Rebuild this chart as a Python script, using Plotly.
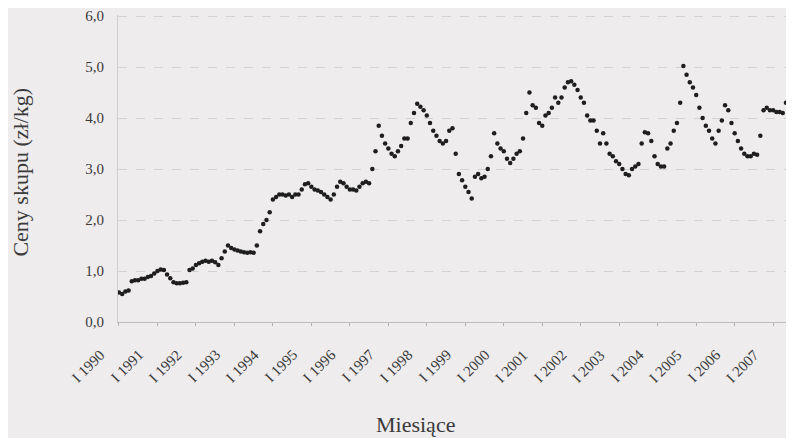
import plotly.graph_objects as go

# Monthly purchase prices, I 1990 .. VI 2007 (zł/kg)
prices_1990 = [0.58, 0.55, 0.60, 0.62, 0.80, 0.82, 0.82, 0.85, 0.85, 0.88, 0.90, 0.95]
prices_1991 = [1.00, 1.03, 1.02, 0.93, 0.86, 0.78, 0.76, 0.76, 0.77, 0.78, 1.02, 1.05]
prices_1992 = [1.12, 1.15, 1.18, 1.20, 1.18, 1.20, 1.17, 1.12, 1.25, 1.38, 1.50, 1.45]
prices_1993 = [1.42, 1.40, 1.38, 1.37, 1.36, 1.37, 1.36, 1.50, 1.78, 1.92, 2.00, 2.15]
prices_1994 = [2.40, 2.45, 2.50, 2.50, 2.48, 2.50, 2.45, 2.50, 2.50, 2.60, 2.70, 2.72]
prices_1995 = [2.65, 2.60, 2.58, 2.55, 2.50, 2.45, 2.40, 2.50, 2.65, 2.75, 2.72, 2.65]
prices_1996 = [2.60, 2.60, 2.58, 2.65, 2.72, 2.75, 2.72, 3.00, 3.35, 3.85, 3.65, 3.50]
prices_1997 = [3.40, 3.30, 3.25, 3.35, 3.45, 3.60, 3.60, 3.90, 4.10, 4.28, 4.22, 4.15]
prices_1998 = [4.05, 3.90, 3.75, 3.65, 3.55, 3.50, 3.55, 3.75, 3.80, 3.30, 2.90, 2.78]
prices_1999 = [2.65, 2.55, 2.42, 2.85, 2.90, 2.82, 2.85, 3.00, 3.25, 3.70, 3.50, 3.40]
prices_2000 = [3.35, 3.20, 3.12, 3.20, 3.30, 3.35, 3.60, 4.10, 4.50, 4.25, 4.20, 3.90]
prices_2001 = [3.85, 4.05, 4.10, 4.20, 4.40, 4.30, 4.40, 4.60, 4.70, 4.72, 4.65, 4.55]
prices_2002 = [4.40, 4.30, 4.05, 3.95, 3.95, 3.75, 3.50, 3.70, 3.50, 3.30, 3.25, 3.15]
prices_2003 = [3.10, 3.00, 2.90, 2.88, 3.00, 3.05, 3.10, 3.50, 3.72, 3.70, 3.55, 3.25]
prices_2004 = [3.10, 3.05, 3.05, 3.40, 3.50, 3.75, 3.90, 4.30, 5.02, 4.85, 4.70, 4.60]
prices_2005 = [4.45, 4.20, 4.00, 3.85, 3.75, 3.60, 3.50, 3.75, 3.95, 4.25, 4.15, 3.90]
prices_2006 = [3.70, 3.55, 3.40, 3.30, 3.25, 3.25, 3.30, 3.28, 3.65, 4.15, 4.20, 4.15]
prices_2007 = [4.15, 4.12, 4.12, 4.10, 4.30, 4.30]

years = list(range(1990, 2008))
tick_vals = [12 * i for i in range(len(years))]
tick_labels = [f"I {y}" for y in years]

y_tick_vals = [0, 1, 2, 3, 4, 5, 6]
y_tick_labels = ["0,0", "1,0", "2,0", "3,0", "4,0", "5,0", "6,0"]

prices = (prices_1990 + prices_1991 + prices_1992 + prices_1993 + prices_1994
          + prices_1995 + prices_1996 + prices_1997 + prices_1998 + prices_1999
          + prices_2000 + prices_2001 + prices_2002 + prices_2003 + prices_2004
          + prices_2005 + prices_2006 + prices_2007)
months = list(range(len(prices)))

bg = "#eeeced"
font_family = "Liberation Serif"
text_color = "#3a3a3a"

fig = go.Figure()

fig.add_trace(go.Scatter(
    x=months,
    y=prices,
    mode="markers",
    marker=dict(color="#1e1e1e", size=4.5),
    showlegend=False,
))

# Month labels at 45 degrees (annotations keep the angle exact)
for val, label in zip(tick_vals, tick_labels):
    fig.add_annotation(
        x=val, y=0, xref="x", yref="paper",
        text=label, textangle=-45, showarrow=False,
        xanchor="right", yanchor="top",
        xshift=-8, yshift=-22,
        font=dict(family=font_family, size=15, color=text_color),
    )

# Axis titles
fig.add_annotation(
    x=0.44, y=-0.335, xref="paper", yref="paper",
    text="Miesiące", showarrow=False,
    xanchor="center", yanchor="middle",
    font=dict(family=font_family, size=22, color=text_color),
)
fig.add_annotation(
    x=-0.1435, y=0.49, xref="paper", yref="paper",
    text="Ceny skupu (zł/kg)", textangle=-90, showarrow=False,
    xanchor="center", yanchor="middle",
    font=dict(family=font_family, size=22, color=text_color),
)

fig.update_layout(
    width=786,
    height=430,
    margin=dict(l=110, r=0, t=7, b=116),
    paper_bgcolor=bg,
    plot_bgcolor=bg,
    font=dict(family=font_family, size=15, color=text_color),
    xaxis=dict(
        range=[-0.3, 210.5],
        tickmode="array",
        tickvals=tick_vals,
        showticklabels=False,
        ticks="outside",
        ticklen=3,
        tickcolor="#b0b0b0",
        showgrid=False,
        showline=True,
        linecolor="#bdbdbd",
        zeroline=False,
    ),
    yaxis=dict(
        range=[0, 6.02],
        tickmode="array",
        tickvals=y_tick_vals,
        ticktext=y_tick_labels,
        ticks="",
        ticklabelstandoff=10,
        ticklabeloverflow="allow",
        showgrid=True,
        gridcolor="#d2d2d2",
        griddash="dash",
        showline=True,
        linecolor="#cfcfcf",
        zeroline=False,
    ),
)

fig.write_html("out.html")
